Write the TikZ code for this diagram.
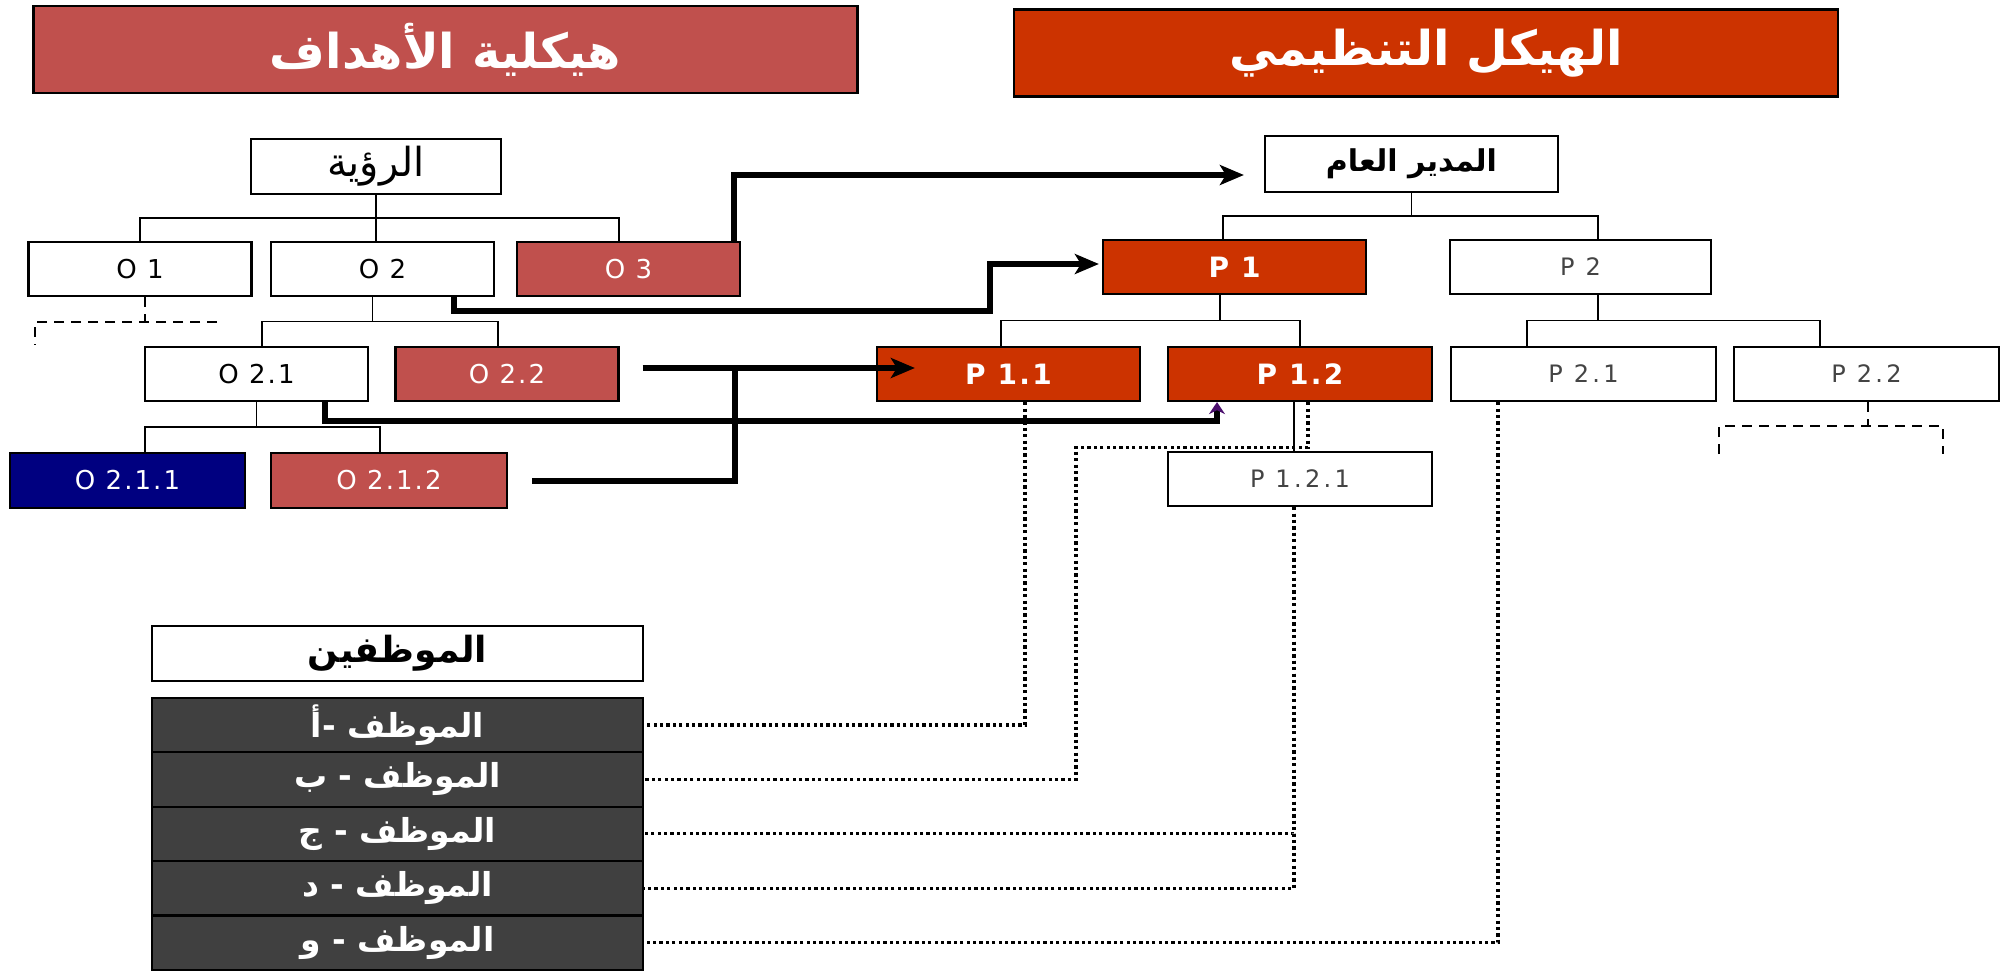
\documentclass[tikz,border=0pt]{standalone}
\usepackage{fontspec}
\setmainfont{DejaVu Sans}
\newfontfamily\arabicfont[Script=Arabic]{DejaVu Sans}
\newfontfamily\labelfont[LetterSpace=8]{DejaVu Sans}
\newfontfamily\plabelfont[LetterSpace=14]{DejaVu Sans}
\TeXXeTstate=1
\usetikzlibrary{arrows.meta,calc}

\definecolor{goalred}{RGB}{192,80,77}
\definecolor{orgred}{RGB}{204,51,0}
\definecolor{goalnavy}{RGB}{0,0,128}
\definecolor{staffgray}{RGB}{64,64,64}
\definecolor{labelgray}{RGB}{68,68,68}
\definecolor{tippurple}{RGB}{75,15,110}
\newcommand{\artxt}[1]{{\arabicfont\beginR #1\endR}}

\begin{document}
\begin{tikzpicture}[x=0.5pt,y=-0.5pt,
	box/.style={draw=black,line width=1.1pt,fill=white,inner sep=0pt,
		minimum width=111.5pt,minimum height=27pt,font=\labelfont\fontsize{13}{15}\selectfont},
	goalbox/.style={box,fill=goalred,text=white},
	orgbox/.style={box,fill=orgred,text=white,minimum width=131.5pt,font=\labelfont\fontsize{14}{16}\selectfont\bfseries},
	pbox/.style={box,minimum width=132.5pt,text=labelgray,font=\plabelfont\fontsize{12}{14}\selectfont},
	head/.style={box,minimum width=412pt,minimum height=43.5pt,text=white,font=\fontsize{24}{28}\selectfont\bfseries},
	staff/.style={box,fill=staffgray,text=white,minimum width=245.5pt,minimum height=27.2pt,font=\fontsize{16.5}{19}\selectfont\bfseries},
	tree/.style={line width=0.8pt},
	stub/.style={line width=0.8pt,dash pattern=on 5pt off 3.5pt},
	link/.style={line width=3pt,-{Stealth[length=12pt,width=10pt,inset=3pt]}},
	dots/.style={line width=1.6pt,dash pattern=on 1.6pt off 1.6pt}]

	\useasboundingbox (0,0) rectangle (2007,971);

	% titles
	\node[head,fill=goalred] (goalhead) at (445.5,49.5) {\artxt{هيكلية الأهداف}};
	\node[head,fill=orgred] (orghead) at (1426,53) {\artxt{الهيكل التنظيمي}};

	% goals tree
	\node[box,minimum width=125pt,minimum height=27.5pt,font=\fontsize{20}{24}\selectfont] (vision) at (376,166.5) {\artxt{الرؤية}};
	\node[box] (o1) at (140,269) {O 1};
	\node[box] (o2) at (382.5,269) {O 2};
	\node[goalbox] (o3) at (628.5,269) {O 3};
	\node[box] (o21) at (256.5,374) {O 2.1};
	\node[goalbox] (o22) at (507,374) {O 2.2};
	\node[box,fill=goalnavy,text=white,minimum width=117.5pt,minimum height=27.5pt] (o211) at (127.5,480.5) {O 2.1.1};
	\node[goalbox,minimum width=118pt,minimum height=27.5pt] (o212) at (389,480.5) {O 2.1.2};

	\coordinate (vbar) at ($(vision.south)!0.5!(o2.north)$);
	\draw[tree] (vision.south) -- (vision.south |- o2.north);
	\draw[tree] (o1.north) |- (vbar) -| ([xshift=-4.75pt]o3.north);
	\coordinate (o2bar) at ($(o2.south)!0.5!(o21.north)$);
	\draw[tree] ([xshift=-5pt]o2.south) -- ([xshift=-5pt]o2.south |- o2bar);
	\draw[tree] ([xshift=2.75pt]o21.north) |- (o2bar) -| ([xshift=-4.5pt]o22.north);
	\coordinate (o21bar) at ($(o21.south)!0.5!(o212.north)$);
	\draw[tree] (o21.south) -- (o21.south |- o21bar);
	\draw[tree] ([xshift=8.75pt]o211.north) |- (o21bar) -| ([xshift=-4.5pt]o212.north);

	\draw[stub] ([xshift=2.5pt]o1.south) -- ++(0,25) coordinate (o1stub);
	\draw[stub] ([xshift=36pt]o1stub) -- ([xshift=-55pt]o1stub) -- ++(0,23);

	% org tree
	\node[box,minimum width=146.5pt,minimum height=28pt,font=\fontsize{15}{18}\selectfont\bfseries] (gm) at (1411.5,164) {\artxt{المدير العام}};
	\node[orgbox] (p1) at (1234.5,267) {P 1};
	\node[pbox,minimum width=130.5pt] (p2) at (1580.5,267) {P 2};
	\node[orgbox] (p11) at (1008.5,374) {P 1.1};
	\node[orgbox,minimum width=132pt] (p12) at (1300,374) {P 1.2};
	\node[pbox] (p21) at (1583.5,374) {P 2.1};
	\node[pbox] (p22) at (1866.5,374) {P 2.2};
	\node[pbox,minimum width=132pt] (p121) at (1300,479) {P 1.2.1};

	\coordinate (gmbar) at ($(gm.south)!0.5!(p1.north)$);
	\draw[tree] (gm.south) -- (gm.south |- gmbar);
	\draw[tree] ([xshift=-5.75pt]p1.north) |- (gmbar) -| ([xshift=8.75pt]p2.north);
	\coordinate (p1bar) at ($(p1.south)!0.5!(p12.north)$);
	\draw[tree] ([xshift=-7.25pt]p1.south) -- ([xshift=-7.25pt]p1.south |- p1bar);
	\draw[tree] ([xshift=-3.75pt]p11.north) |- (p1bar) -| (p12.north);
	\coordinate (p2bar) at ($(p2.south)!0.5!(p22.north)$);
	\draw[tree] ([xshift=8.75pt]p2.south) -- ([xshift=8.75pt]p2.south |- p2bar);
	\draw[tree] ([xshift=-28.25pt]p21.north) |- (p2bar) -| ([xshift=-23.25pt]p22.north);
	\draw[tree] ([xshift=-3pt]p12.south) -- ([xshift=-3pt]p121.north);

	\draw[stub] ([xshift=0.75pt]p22.south) -- ++(0,24) coordinate (p22stub);
	\draw[stub] ([xshift=-74.5pt]p22stub) ++(0,28) -- ++(0,-28) -- ++(224,0) -- ++(0,28);

	% staff
	\node[box,minimum width=245.5pt,minimum height=27.5pt,font=\fontsize{18}{21}\selectfont\bfseries] (staffhead) at (397.5,653.5) {\artxt{الموظفين}};
	\foreach \n/\t [count=\i from 0] in {sa/{الموظف -أ},sb/{الموظف - ب},sc/{الموظف - ج},sd/{الموظف - د},se/{الموظف - و}}
		\node[staff] (\n) at (397.5,{725+54.4*\i}) {\artxt{\t}};

	% links goals -> org
	\draw[link] ([xshift=-3.5pt]o3.north east) |- ([xshift=-10pt,yshift=-5.5pt]gm.west);
	\draw[link] ([xshift=-20.5pt]o2.south east) -- ++(0,14) -| ([xshift=-56pt,yshift=1.5pt]p1.west) -- ([xshift=-1.5pt,yshift=1.5pt]p1.west);
	\coordinate (join) at ([xshift=57.5pt,yshift=3pt]o22.east);
	\draw[link] ([xshift=11.5pt,yshift=3pt]o22.east) -- ([xshift=19.5pt,yshift=3pt]p11.west);
	\draw[link,-] ([xshift=12pt]o212.east) -| (join);
	\draw[link,-{Stealth[length=6pt,width=8pt,color=tippurple]}] ([xshift=-22pt]o21.south east) -- ++(0,19) -| ([xshift=-41.5pt]p12.south);

	% staff -> org
	\draw[dots] ([xshift=8.25pt]p11.south) |- (sa.east);
	\draw[dots] ([xshift=4pt]p12.south) -- ++(0,45) -- ++(-232,0) |- (sb.east);
	\draw[dots] ([xshift=-3pt]p121.south) |- (sc.east);
	\draw[dots] ([xshift=-3pt]p121.south) |- (sd.east);
	\draw[dots] ([xshift=-42.75pt]p21.south) |- (se.east);
\end{tikzpicture}
\end{document}
